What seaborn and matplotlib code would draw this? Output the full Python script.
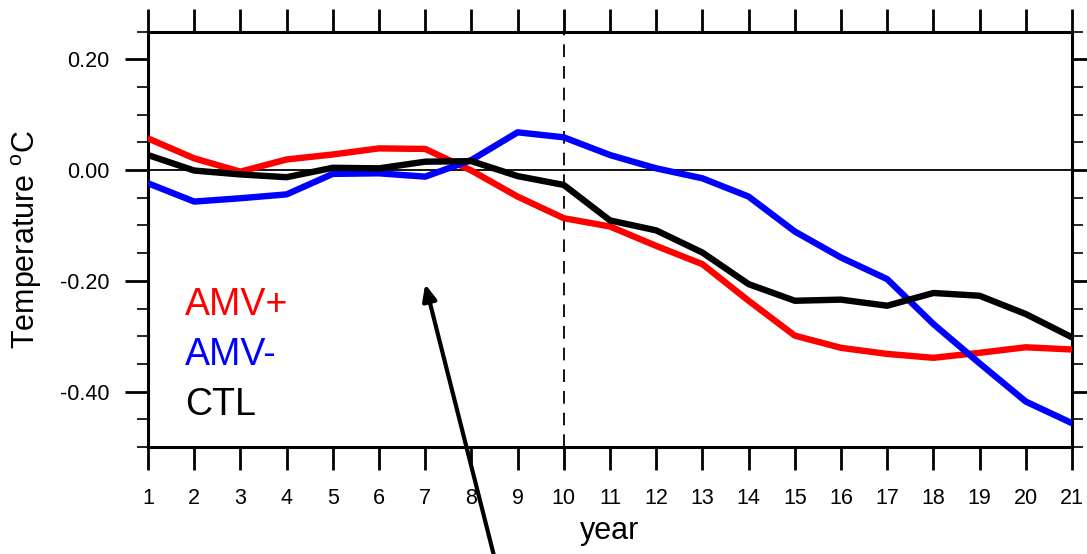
import numpy as np
import pandas as pd
import matplotlib
matplotlib.use("Agg")
import matplotlib.pyplot as plt
import seaborn as sns
from matplotlib.ticker import MultipleLocator, FixedLocator

years = list(range(1, 22))
amv_plus = [0.057, 0.021, -0.003, 0.019, 0.028, 0.039, 0.038, -0.001, -0.048, -0.087,
            -0.102, -0.137, -0.170, -0.236, -0.299, -0.321, -0.332, -0.339, -0.330, -0.320, -0.324]
amv_minus = [-0.024, -0.057, -0.051, -0.044, -0.007, -0.006, -0.012, 0.018, 0.068, 0.059,
             0.027, 0.003, -0.015, -0.048, -0.111, -0.158, -0.197, -0.278, -0.349, -0.418, -0.457]
ctl = [0.027, -0.001, -0.008, -0.013, 0.004, 0.003, 0.015, 0.016, -0.011, -0.027,
       -0.091, -0.109, -0.149, -0.206, -0.236, -0.234, -0.245, -0.222, -0.227, -0.260, -0.302]
series_names = ["AMV+", "AMV-", "CTL"]
series_colors = {"AMV+": "#ff0000", "AMV-": "#0000ff", "CTL": "#000000"}
xticks = list(range(1, 22))
yticks = [0.20, 0.00, -0.20, -0.40]
ytick_labels = ["0.20", "0.00", "-0.20", "-0.40"]

df = pd.DataFrame({
    "year": years * 3,
    "value": amv_plus + amv_minus + ctl,
    "run": ["AMV+"] * 21 + ["AMV-"] * 21 + ["CTL"] * 21,
})

sns.set_theme(style="ticks")
plt.rcParams["font.family"] = ["Liberation Sans", "DejaVu Sans"]

fig = plt.figure(figsize=(10.87, 5.54), dpi=100)
ax = fig.add_axes([148 / 1087, 1 - 447 / 554, (1072 - 148) / 1087, (447 - 31.5) / 554])

ax.axhline(0, color="black", lw=1.3, zorder=1)
ax.axvline(10, color="black", lw=1.3, ls=(0, (7, 5)), zorder=1)

sns.lineplot(data=df, x="year", y="value", hue="run", hue_order=series_names,
             palette=series_colors, lw=4.6, legend=False, ax=ax, zorder=3)

ax.set_xlim(1, 21)
ax.set_ylim(-0.5, 0.25)
ax.xaxis.set_major_locator(FixedLocator(xticks))
ax.set_xticklabels([str(v) for v in xticks])
ax.yaxis.set_major_locator(FixedLocator(yticks))
ax.set_yticklabels(ytick_labels)
ax.yaxis.set_minor_locator(MultipleLocator(0.05))

ax.tick_params(axis="both", which="major", direction="out", length=16.5, width=2.0,
               color="black", labelsize=15.5, labelcolor="black")
ax.tick_params(axis="y", which="major", pad=11, left=True, right=True)
ax.tick_params(axis="y", which="minor", direction="out", length=8, width=1.2,
               left=True, right=True, color="black")
ax.tick_params(axis="x", which="major", pad=13, top=True, bottom=True)
for s in ax.spines.values():
    s.set_visible(True)
    s.set_linewidth(2.2)
    s.set_color("black")

ax.set_xlabel("year", fontsize=22, color="black", labelpad=5)
ax.set_ylabel("Temperature $^\\mathregular{o}$C", fontsize=22, color="black", labelpad=12)

for i, name in enumerate(series_names):
    ax.text(185 / 1087, 1 - (315 + 50 * i) / 554, name, transform=fig.transFigure,
            color=series_colors[name], fontsize=27, ha="left", va="baseline")

ax.annotate("", xy=(7.0, -0.206), xytext=(8.5, -0.70), xycoords="data", textcoords="data",
            arrowprops=dict(arrowstyle="-|>,head_length=0.8,head_width=0.35", lw=3,
                            color="black", shrinkA=0, shrinkB=0),
            annotation_clip=False, zorder=5)

fig.savefig("out.png", dpi=100)
